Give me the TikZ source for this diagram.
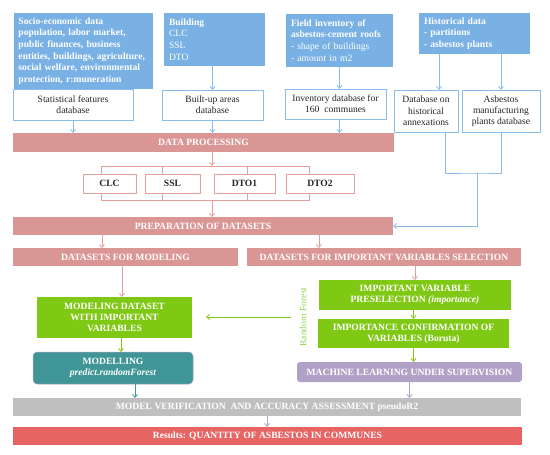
\documentclass[tikz,border=0pt]{standalone}
\usepackage{fontspec}
\setmainfont{Liberation Serif}
\usetikzlibrary{arrows.meta,calc}
\definecolor{srcblue}{RGB}{121,177,228}
\definecolor{lineblue}{RGB}{135,188,236}
\definecolor{barpink}{RGB}{218,150,148}
\definecolor{linepink}{RGB}{228,158,156}
\definecolor{boxgreen}{RGB}{127,200,20}
\definecolor{rfgreen}{RGB}{150,212,80}
\definecolor{boxteal}{RGB}{64,150,150}
\definecolor{boxpurple}{RGB}{178,161,199}
\definecolor{bargray}{RGB}{191,191,191}
\definecolor{barred}{RGB}{230,100,100}
\newcommand{\txtfont}{\fontsize{9.6}{11.3}\selectfont}
\tikzset{
  size/.style 2 args={minimum width=#1pt,minimum height=#2pt},
  box/.style={anchor=north west,inner sep=0pt,outer sep=0pt,font=\txtfont},
  source/.style={box,fill=srcblue,text=white,align=left,
    font=\fontsize{9.6}{11.7}\selectfont\bfseries},
  database/.style={box,draw=lineblue,line width=0.8pt,fill=white,
    text=black!85,align=center},
  layer/.style={box,draw=linepink,line width=0.8pt,fill=white,
    text=black!85,font=\txtfont\bfseries},
  bar/.style={box,fill=barpink,text=white,align=center,font=\txtfont\bfseries},
  greenbox/.style={bar,fill=boxgreen},
  tealbox/.style={bar,fill=boxteal,draw=boxpurple,line width=0.5pt,rounded corners=4pt},
  purplebox/.style={bar,fill=boxpurple,rounded corners=3pt},
  graybar/.style={bar,fill=bargray},
  redbar/.style={bar,fill=barred},
  link/.style={line width=0.8pt},
  arr/.style={link,-{Straight Barb[length=3pt,width=5pt]}},
  blueline/.style={link,draw=lineblue},
  bluearr/.style={arr,draw=lineblue},
  pinkline/.style={link,draw=linepink},
  pinkarr/.style={arr,draw=linepink},
  greenarr/.style={arr,draw=boxgreen},
  tealarr/.style={arr,draw=boxteal},
  purplearr/.style={arr,draw=boxpurple}
}

\begin{document}
\begin{tikzpicture}[x=1pt,y=-1pt]
  \useasboundingbox (0,0) rectangle (550,455);

  % sources
  \node[source,size={139}{76},text width=130pt] (socio) at (14,13)
    {Socio-economic data\\ population, labor market,\\ public finances, business\\
     entities, buildings, agriculture,\\ social welfare, environmental\\ protection, r:muneration};
  \node[source,size={101}{53},text width=91pt] (building) at (164,13)
    {Building\\ \mdseries CLC\\ SSL\\ DTO};
  \node[source,size={107}{53},text width=97pt] (field) at (286,14)
    {Field inventory of\\ asbestos-cement roofs\\ \mdseries - shape of buildings\\ - amount in m2};
  \node[source,size={111}{41},text width=101pt] (hist) at (419,13)
    {Historical data\\ - partitions\\ - asbestos plants};

  % databases
  \node[database,size={120}{31}] (stat) at (13,89) {Statistical features\\ database};
  \node[database,size={101}{30}] (builtup) at (162,90) {Built-up areas\\ database};
  \node[database,size={101}{30}] (inventory) at (285,89) {Inventory database for\\ 160~~communes};
  \node[database,size={64}{42}] (annex) at (394,90) {Database on\\ historical\\ annexations};
  \node[database,size={78}{42}] (plants) at (462,90) {Asbestos\\ manufacturing\\ plants database};

  \node[bar,size={381}{19}] (dataproc) at (13,133) {DATA PROCESSING};

  % layers
  \draw[pinkline] (101,166) rectangle (309,200);
  \foreach \x in {162,247} {
    \draw[pinkline] (\x,166) -- (\x,200);
  }
  \coordinate (brtop) at (212,166);
  \coordinate (brbot) at (212,200);
  \foreach \nm/\x/\w/\txt in {clc/83/53/CLC,ssl/145/55/SSL,dto1/214/61/DTO1,dto2/286/68/DTO2} {
    \node[layer,size={\w}{19}] (\nm) at (\x,174) {\txt};
  }

  \node[bar,size={380}{18}] (prep) at (13,217) {PREPARATION OF DATASETS};
  \node[bar,size={225}{18}] (dsmodel) at (13,248) {DATASETS FOR MODELING};
  \node[bar,size={274}{18}] (dsimp) at (247,248) {DATASETS FOR IMPORTANT VARIABLES SELECTION};

  \node[greenbox,size={155}{41}] (moddata) at (37,297)
    {MODELING DATASET\\ WITH IMPORTANT\\ VARIABLES};
  \node[tealbox,size={160}{32}] (modelling) at (33,352)
    {MODELLING\\ \itshape predict.randomForest};
  \node[greenbox,size={192}{30}] (presel) at (319,280)
    {IMPORTANT VARIABLE\\ PRESELECTION \textit{(importance)}};
  \node[greenbox,size={191}{29}] (confirm) at (318,319)
    {IMPORTANCE CONFIRMATION OF\\ VARIABLES (Boruta)};
  \node[purplebox,size={225}{20}] (ml) at (297,362) {MACHINE LEARNING UNDER SUPERVISION};
  \node[rotate=90,inner sep=0pt,text=rfgreen,font=\txtfont] (rf) at (303,317) {Random Forest};

  \node[graybar,size={508}{18}] (verif) at (13,398)
    {MODEL VERIFICATION~ AND ACCURACY ASSESSMENT pseudoR2};
  \node[redbar,size={509}{18}] (results) at (13,427) {Results: QUANTITY OF ASBESTOS IN COMMUNES};

  % connectors
  \draw[bluearr] (stat.south) -- (stat.south |- dataproc.north);
  \draw[bluearr] (builtup.north |- building.south) -- (builtup.north);
  \draw[bluearr] (builtup.south) -- (builtup.south |- dataproc.north);
  \draw[bluearr] (field.south) -- (field.south |- inventory.north);
  \draw[bluearr] (field.south |- inventory.south) -- (field.south |- dataproc.north);
  \coordinate (h1) at ([xshift=13pt]annex.north);
  \draw[bluearr] (h1 |- hist.south) -- (h1);
  \draw[bluearr] (plants.north |- hist.south) -- (plants.north);
  \coordinate (a1) at ([xshift=19pt]annex.south);
  \coordinate (join) at (477,173);
  \draw[blueline] (a1) |- (join) -| (plants.south);
  \draw[bluearr] (join) |- (prep.east);

  \draw[pinkarr] (dataproc.south -| brtop) -- (brtop);
  \draw[pinkarr] (brbot) -- (brbot |- prep.north);
  \coordinate (m1) at ([xshift=-23.5pt]dsmodel.north);
  \coordinate (m2) at ([xshift=-65pt]dsimp.north);
  \draw[pinkarr] (m1 |- prep.south) -- (m1);
  \draw[pinkarr] (m2 |- prep.south) -- (m2);
  \coordinate (m3) at ([xshift=-3.5pt]dsmodel.south);
  \draw[pinkarr] (m3) -- (m3 |- moddata.north);
  \draw[pinkarr] (presel.north |- dsimp.south) -- (presel.north);

  \coordinate (m4) at ([xshift=6.5pt]moddata.south);
  \draw[greenarr] (m4) -- (m4 |- modelling.north);
  \draw[greenarr] (confirm.north |- presel.south) -- (confirm.north);
  \draw[greenarr] (confirm.south) -- (confirm.south |- ml.north);
  \draw[greenarr,shorten <=8pt,shorten >=14pt] (rf.north) -- (rf.north -| moddata.east);

  \coordinate (m5) at ([xshift=22pt]modelling.south);
  \draw[tealarr] (m5) -- (m5 |- verif.north);
  \draw[purplearr] (ml.south) -- (ml.south |- verif.north);
  \draw[purplearr] (verif.south) -- (verif.south |- results.north);
\end{tikzpicture}
\end{document}
